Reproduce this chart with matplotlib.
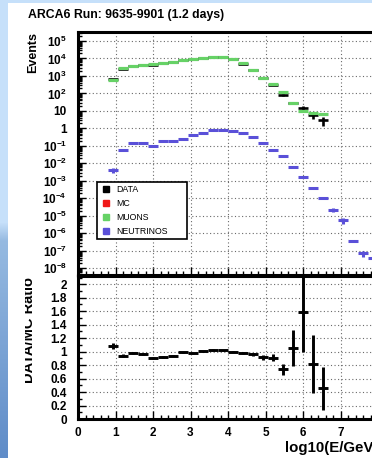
import numpy as np
import matplotlib
matplotlib.use("Agg")
import matplotlib.pyplot as plt
from matplotlib.ticker import FixedLocator, FixedFormatter, MultipleLocator, LogLocator, NullFormatter
from matplotlib.lines import Line2D
from matplotlib.patches import Rectangle
from matplotlib.transforms import Bbox, TransformedBbox

plt.rcParams["font.family"] = ["Liberation Sans", "DejaVu Sans"]
plt.rcParams["font.weight"] = "bold"
plt.rcParams["mathtext.fontset"] = "custom"
plt.rcParams["mathtext.rm"] = "Liberation Sans:bold"
plt.rcParams["mathtext.it"] = "Liberation Sans:bold"
plt.rcParams["mathtext.bf"] = "Liberation Sans:bold"

# ---- data (bin centres in log10(E/GeV)) ----
bin_width = 0.2667
mc_x = [0.93, 1.20, 1.47, 1.73, 2.00, 2.27, 2.53, 2.80, 3.07, 3.33, 3.60,
        3.87, 4.13, 4.40, 4.67, 4.93, 5.20, 5.47, 5.73, 6.00, 6.27, 6.53]
muons = [590, 2750, 3900, 4300, 4700, 5750, 6600, 8100, 9300, 10200, 11700,
         11700, 9300, 5200, 2200, 800, 340, 115, 27.5, 9.3, 7.4, 6.3]
data = [640, 2590, 3800, 4150, 4280, 5320, 6200, 8020, 9070, 10250, 11990,
        11930, 9300, 5070, 2110, 732, 309, 85, 29, 15, 6, 3]
data_err = [25, 51, 62, 64, 65, 73, 79, 90, 95, 101, 110,
            109, 96, 71, 46, 27, 18, 9.2, 5.4, 3.9, 2.4, 1.7]
ratio = [1.085, 0.94, 0.975, 0.965, 0.91, 0.925, 0.94, 0.99, 0.975, 1.005, 1.025,
         1.02, 1.0, 0.975, 0.96, 0.915, 0.91, 0.74, 1.05, 1.59, 0.82, 0.455]
ratio_err = [0.045, 0.02, 0.016, 0.015, 0.014, 0.013, 0.012, 0.011, 0.01, 0.01, 0.009,
             0.009, 0.01, 0.014, 0.021, 0.034, 0.052, 0.08, 0.27, 0.59, 0.43, 0.32]
nu_x = [0.93, 1.20, 1.47, 1.73, 2.00, 2.27, 2.53, 2.80, 3.07, 3.33, 3.60,
        3.87, 4.13, 4.40, 4.67, 4.93, 5.20, 5.47, 5.73, 6.00, 6.27, 6.53,
        6.80, 7.07, 7.33, 7.60, 7.87]
neutrinos = [0.0041, 0.059, 0.138, 0.155, 0.105, 0.195, 0.19, 0.245, 0.43, 0.56, 0.76,
             0.76, 0.71, 0.54, 0.32, 0.148, 0.062, 0.027, 0.006, 0.00158, 0.0004, 0.0001,
             2.2e-5, 5.6e-6, 3.9e-7, 7.1e-8, 4.0e-8]
nu_err = [0.0012, 0, 0, 0, 0, 0, 0, 0, 0, 0, 0,
          0, 0, 0, 0, 0, 0, 0, 0, 0.0002, 0, 0,
          6e-6, 2e-6, 0, 2.5e-8, 1.5e-8]

legend_labels = ["DATA", "MC", "MUONS", "NEUTRINOS"]
log_ticks = [1e-8, 1e-7, 1e-6, 1e-5, 1e-4, 1e-3, 1e-2, 1e-1, 1, 10, 1e2, 1e3, 1e4, 1e5]
log_labels = [r"$10^{-8}$", r"$10^{-7}$", r"$10^{-6}$", r"$10^{-5}$", r"$10^{-4}$",
              r"$10^{-3}$", r"$10^{-2}$", r"$10^{-1}$", "1", "10",
              r"$10^{2}$", r"$10^{3}$", r"$10^{4}$", r"$10^{5}$"]
ratio_ticks = [0, 0.2, 0.4, 0.6, 0.8, 1.0, 1.2, 1.4, 1.6, 1.8, 2.0]
ratio_labels = ["0", "0.2", "0.4", "0.6", "0.8", "1", "1.2", "1.4", "1.6", "1.8", "2"]
x_ticks = [0, 1, 2, 3, 4, 5, 6, 7, 8]
x_labels = ["0", "1", "2", "3", "4", "5", "6", "7", ""]

GREEN = "#66d266"
BLUE = "#5a50d8"
RED = "#f01818"
GRIDC = "#6a6a6a"

W, H, DPI = 372, 458, 100


def fx(px):
    return px / W


def fy(py):
    return 1 - py / H


fig = plt.figure(figsize=(W / DPI, H / DPI), dpi=DPI)
fig.patch.set_facecolor("#c6e0fa")
fig.patches.append(Rectangle((fx(8), 0), 1, fy(3), transform=fig.transFigure,
                             facecolor="white", edgecolor="none", zorder=-5))

# slide background strip on the left (light blue, darker towards the bottom)
bg = fig.add_axes([0, 0, fx(8), 1], zorder=-1)
rows = np.arange(H)
col = np.stack([np.interp(rows, [0, 222, 240, 458], c) for c in
                ([198, 198, 150, 95], [224, 224, 186, 140], [250, 250, 225, 200])], axis=1) / 255
bg.imshow(col[:, None, :], aspect="auto", extent=[0, 1, 0, 1], origin="upper")
bg.axis("off")

ax1 = fig.add_axes([fx(78), fy(274.5), 300 / W, (274.5 - 32) / H])
ax2 = fig.add_axes([fx(78), fy(419), 300 / W, (419 - 275.5) / H])

grid_kw = dict(color=GRIDC, linestyle=(0, (1, 2.2)), linewidth=0.8)

# ---- upper panel ----
ax1.set_yscale("log")
ax1.errorbar(mc_x, data, xerr=bin_width / 2, yerr=data_err, fmt="none",
             ecolor="black", elinewidth=1.9, zorder=2)
ax1.errorbar(mc_x, muons, xerr=bin_width / 2, fmt="none",
             ecolor=GREEN, elinewidth=2.3, zorder=2.5)
ax1.errorbar(nu_x, neutrinos, xerr=bin_width / 2, yerr=nu_err, fmt="none",
             ecolor=BLUE, elinewidth=2.2, zorder=3)
ax1.set_xlim(0, 8)
ax1.set_ylim(10 ** -8.35, 10 ** 5.51)
ax1.yaxis.set_major_locator(FixedLocator(log_ticks))
ax1.yaxis.set_major_formatter(FixedFormatter(log_labels))
ax1.yaxis.set_minor_locator(LogLocator(base=10, subs=np.arange(2, 10), numticks=100))
ax1.yaxis.set_minor_formatter(NullFormatter())
ax1.xaxis.set_major_locator(MultipleLocator(1))
ax1.xaxis.set_minor_locator(MultipleLocator(0.2))
ax1.tick_params(axis="x", labelbottom=False)
ax1.grid(True, which="major", **grid_kw)

handles = [Line2D([], [], linestyle="none", marker="s", markersize=4.2,
                  markerfacecolor=c, markeredgecolor=c)
           for c in ["black", RED, GREEN, BLUE]]
leg = ax1.legend(handles, legend_labels, loc="upper left",
                 bbox_to_anchor=(fx(97), fy(236), 90 / W, 54 / H),
                 bbox_transform=fig.transFigure, mode="expand", borderaxespad=0,
                 prop={"weight": "normal", "size": 6.3}, frameon=True, fancybox=False,
                 framealpha=1, edgecolor="black", borderpad=0.3, handlelength=1.4,
                 handletextpad=0.5, labelspacing=0.6)
leg.get_frame().set_linewidth(1.2)

# ---- ratio panel ----
ax2.errorbar(mc_x, ratio, xerr=bin_width / 2, yerr=ratio_err, fmt="none",
             ecolor="black", elinewidth=2.1, zorder=3)
ax2.set_xlim(0, 8)
ax2.set_ylim(0, 2.13)
ax2.yaxis.set_major_locator(FixedLocator(ratio_ticks))
ax2.yaxis.set_major_formatter(FixedFormatter(ratio_labels))
ax2.yaxis.set_minor_locator(MultipleLocator(0.1))
ax2.xaxis.set_major_locator(FixedLocator(x_ticks))
ax2.xaxis.set_major_formatter(FixedFormatter(x_labels))
ax2.xaxis.set_minor_locator(MultipleLocator(0.2))
ax2.grid(True, which="major", **grid_kw)

for ax in (ax1, ax2):
    ax.set_axisbelow(True)
    for s in ax.spines.values():
        s.set_linewidth(2.2)
    ax.tick_params(which="both", direction="in", top=False, right=False, width=1.0,
                   labelsize=8.5, colors="black")
    ax.tick_params(which="major", length=6)
    ax.tick_params(which="minor", length=3)
    ax.tick_params(axis="y", pad=8)
    ax.tick_params(axis="x", pad=6)

fig.text(fx(28), fy(15), "ARCA6 Run: 9635-9901 (1.2 days)", fontsize=8.8,
         fontweight="bold", ha="left", va="center")
fig.text(fx(33), fy(32), "Events", rotation=90, fontsize=9, fontweight="bold",
         ha="center", va="top")
rl = fig.text(fx(29), fy(277), "DATA/MC Ratio", rotation=90, fontsize=10.5,
              fontweight="bold", ha="center", va="top")
rl.set_clip_box(TransformedBbox(Bbox.from_extents(fx(25.5), 0, 1, 1), fig.transFigure))
rl.set_clip_on(True)
fig.text(fx(378), fy(448), "log10(E/GeV)", fontsize=10.8, fontweight="bold",
         ha="right", va="center")

fig.savefig("out.png", dpi=DPI)
